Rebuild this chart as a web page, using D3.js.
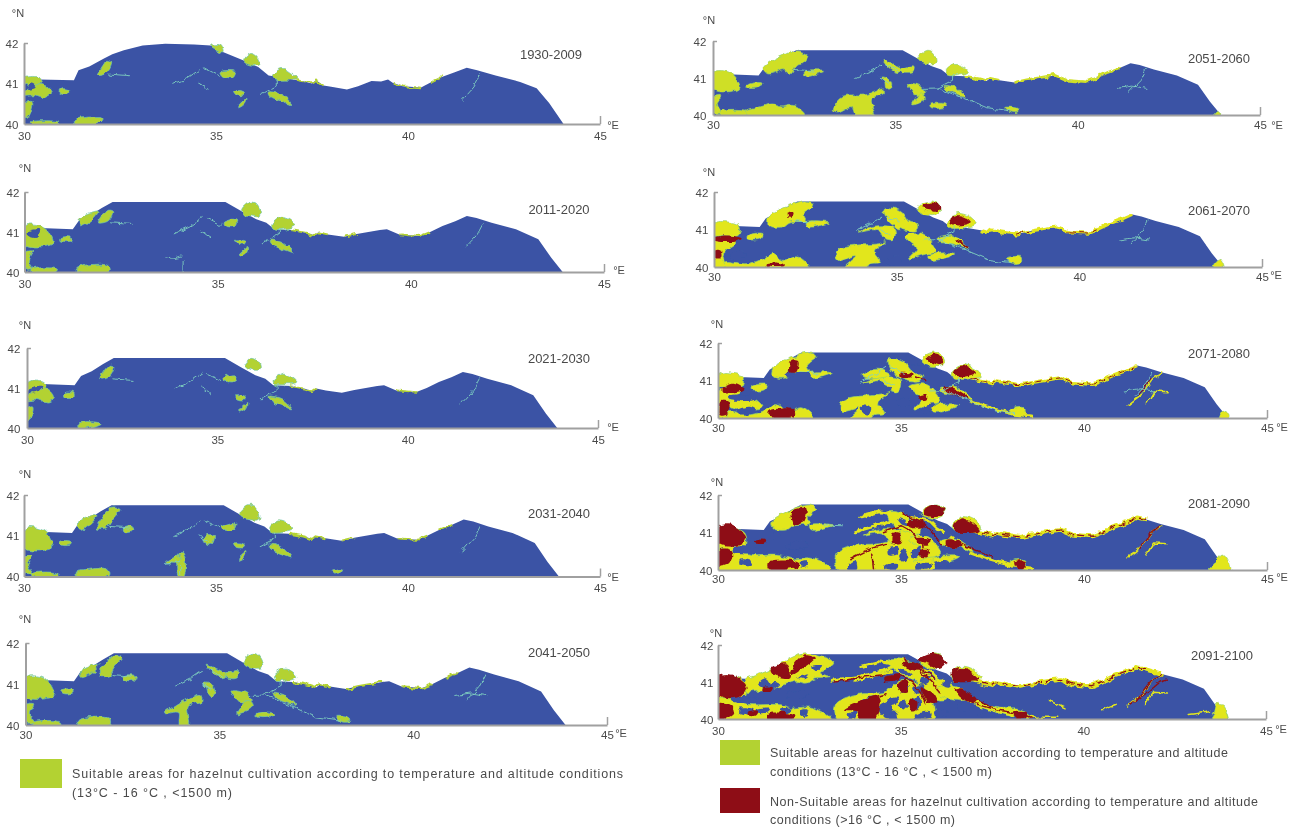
<!DOCTYPE html>
<html><head><meta charset="utf-8">
<script src="https://cdn.jsdelivr.net/npm/d3@7/dist/d3.min.js"></script>
<style>html,body{margin:0;background:#fff}svg{display:block}text{font-family:"Liberation Sans",Arial,sans-serif;fill:#4a4a4a}</style>
</head><body><div id="c"></div>
<script>
// ---------- data: all shapes are flat [lon,lat,lon,lat,...] lists ----------
const periods=["1930-2009","2011-2020","2021-2030","2031-2040","2041-2050","2051-2060","2061-2070","2071-2080","2081-2090","2091-2100"];
const lonTicks=[30,35,40,45], latTicks=[40,41,42];
const coastDome=[30,40,30,41.08,30.4,41.1,31.3,41.08,31.42,41.33,31.7,41.42,32.07,41.61,32.3,41.72,32.6,41.82,33.09,41.94,33.68,41.98,34.43,41.96,34.86,41.94,35.18,41.78,35.72,41.57,36.1,41.41,36.37,41.2,36.9,41.12,37.3,41.05,37.5,41.0,37.6,41.08,37.8,40.95,38.0,40.92,38.41,40.85,38.7,40.93,39.05,41.06,39.3,41.05,39.48,41.1,39.6,41.02,39.86,40.93,40.34,40.9,40.6,41.03,40.88,41.16,41.2,41.27,41.53,41.39,41.8,41.33,42.28,41.2,42.92,41.04,43.35,40.88,43.68,40.51,44.05,40];
const coastFlat=[30,40,30,41.07,30.4,41.1,31.25,41.07,31.42,41.3,31.7,41.42,32.0,41.6,32.28,41.75,35.2,41.75,35.62,41.52,36.0,41.32,36.26,41.23,36.47,41.07,36.9,41.05,37.3,40.98,37.5,40.92,37.6,40.99,37.85,40.94,38.27,40.88,38.6,40.95,38.9,41.0,39.2,41.05,39.38,41.07,39.7,40.94,40.23,40.9,40.5,41.0,40.82,41.15,41.15,41.27,41.45,41.4,41.7,41.35,42.09,41.23,42.72,41.07,43.3,40.82,43.63,40.36,43.93,40];

const bulgeA=[35.62,41.55,35.8,41.73,35.98,41.73,36.1,41.55,36.1,41.4,35.85,41.4,35.7,41.45];
const bulgeB=[36.4,41.2,36.6,41.36,36.85,41.32,37.0,41.17,36.75,41.08,36.45,41.08];
const bulgeA1=[35.72,41.55,35.9,41.74,36.08,41.66,36.12,41.47,35.92,41.45];
const bulgeB1=[36.47,41.2,36.72,41.37,36.95,41.28,37.1,41.12,36.7,41.08,36.5,41.1];
const topBit=[34.86,41.94,35.13,41.94,35.18,41.78,35.0,41.84];

const gWestTiny=[30,41.12,30.3,41.17,30.5,41.05,30.2,40.95,30,41.0];
const gWestCore=[30,40.72,30.2,40.97,30.5,41.0,30.72,40.78,30.55,40.65,30.25,40.72];
const gWestFull=[30,41.15,30.32,41.19,30.58,41.07,30.74,40.73,30.58,40.65,30,40.69];
const gWestLow=[30,40.48,30.21,40.52,30.1,40.27,30.21,40.07,30,40.07];
const gBottomA=[31.38,40.11,31.8,40.19,32.17,40.15,32.17,40,31.38,40];
const gBottomThin=[30.2,40.05,30.9,40.05,30.85,40,30.2,40];
const gPatch31=[30.95,40.86,31.22,40.86,31.22,40.78,30.95,40.78];
const gMainS=[31.96,41.32,32.17,41.57,32.28,41.53,32.17,41.28,31.91,41.23];
const gCoast31=[31.43,41.33,31.9,41.5,31.72,41.28,31.45,41.16];
const gMainM=[31.9,41.2,32.05,41.48,32.28,41.7,32.5,41.65,32.3,41.4,32.15,41.2];
const gB=[35.14,41.23,35.51,41.32,35.46,41.15,35.2,41.15];
const gC=[35.46,40.82,35.73,40.79,35.73,40.71,35.51,40.73];
const gD=[35.57,40.44,35.78,40.61,35.73,40.48,35.57,40.4];
const gE=[36.36,40.79,36.68,40.73,36.95,40.48,36.79,40.53,36.41,40.69];
const gStem=[34.0,40.45,34.12,40.62,34.2,40.4,34.16,40,34.02,40];
const gStemWide=[33.6,40.28,33.9,40.5,34.14,40.62,34.5,40.72,34.55,40.6,34.2,40.45,34.22,40,33.98,40,33.95,40.3];
const g45=[34.6,41.02,34.82,40.98,34.9,40.8,34.75,40.72,34.7,40.9];
const gF=[34.66,41.48,34.92,41.38,35.2,41.22,35.05,41.15,34.8,41.3];
const gC2=[35.33,40.85,35.7,40.78,35.82,40.58,35.55,40.55,35.4,40.7];
const gD2=[35.45,40.28,35.72,40.6,35.85,40.45,35.65,40.32];
const gG=[35.95,40.28,36.35,40.3,36.4,40.22,35.98,40.2];
const gH=[38.0,40.2,38.35,40.17,38.35,40.08,38.1,40.1];
const gMainW=[31.4,41.3,31.9,41.6,32.25,41.73,32.6,41.62,32.45,41.38,32.3,41.35,32.12,41.1,31.9,41.25,31.7,41.15,31.45,41.12];
const g33=[32.5,41.18,33.05,41.2,32.75,41.08,32.55,41.05];
const gBottomB=[30.9,40.12,31.3,40.22,31.6,40.3,31.87,40.22,32.2,40.26,32.5,40.05,32.5,40,30.9,40];
const gBig=[33.3,40.15,33.55,40.5,34.2,40.55,34.65,40.7,34.7,40.6,34.35,40.42,34.42,40.05,34.3,40,33.9,40,33.8,40.22,33.4,40.08];
const gTip=[43.75,40.03,43.85,40.12,43.93,40,43.72,40];

const gW2=[30,41.16,30.39,41.2,30.71,41.07,30.66,40.84,30.28,40.84,30,40.84];
const gW2Low=[30,40.72,30.6,40.68,30.4,40.5,30.25,40.32,30.3,40,30,40];
const g31b=[30.92,40.84,31.34,40.89,31.28,40.76,30.92,40.74];
const gBot2=[30.28,40.13,30.92,40.09,31.34,40.22,31.6,40.36,31.87,40.18,32.29,40.27,32.6,40.04,32.6,40,30.28,40];
const gMain2=[31.5,41.33,32.08,41.64,32.55,41.73,32.7,41.64,32.44,41.42,32.5,41.24,32.08,41.2,31.87,41.07,31.5,41.11];
const g33b=[32.5,41.2,33.13,41.2,32.81,41.09,32.55,41.07];
const gBig2=[33.34,40.36,33.55,40.53,34.5,40.62,34.71,40.68,34.39,40.4,34.55,40.13,34.29,40.09,34.2,40,33.6,40,33.87,40.27,33.39,40.18];
const gN2=[33.97,40.93,34.39,41.09,34.97,41.02,34.92,40.71,34.66,40.76,34.5,40.98];
const gF2=[34.66,41.56,35.08,41.51,35.34,41.2,35.55,41.16,35.55,40.98,35.08,41.02,34.76,41.24];
const gC3=[35.24,40.84,35.71,40.89,36.08,40.44,35.66,40.31,35.34,40.22,35.55,40.49];
const gE2=[36.08,40.76,36.5,40.84,36.97,40.49,36.6,40.6,36.13,40.68];
const gG2=[35.87,40.31,36.6,40.36,36.29,40.22,35.87,40.2];
const gH2=[37.98,40.22,38.4,40.27,38.4,40.12,38.08,40.12];
const gTip2=[43.72,40.13,43.88,40.2,43.96,40,43.67,40];
const rA=[35.71,41.64,35.98,41.72,36.19,41.6,36.13,41.51,35.76,41.56];
const rB=[36.45,41.29,36.71,41.38,37.03,41.2,36.71,41.11,36.5,41.16];
const yA=[35.55,41.5,35.75,41.72,36.05,41.74,36.2,41.5,36.05,41.38,35.75,41.4];
const yB=[36.4,41.2,36.65,41.42,37.0,41.34,37.2,41.12,36.7,41.03,36.45,41.05];
const rW2a=[30,40.77,30.34,40.84,30.76,40.76,30.6,40.68,30,40.71];
const rW2b=[30,40.44,30.18,40.44,30.18,40.22,30,40.22];
const r31=[32.0,41.45,32.2,41.48,32.15,41.3,32.02,41.3];
const rBot=[31.45,40.1,31.9,40.08,31.9,40.03,31.45,40.03];

const r3=[[30.14,40.79,30.45,40.91,30.72,40.75,30.4,40.66,30.14,40.68],[30.08,40.48,30.3,40.44,30.24,40.09,30.03,40.09],[31.4,40.18,32.08,40.22,32.08,40.04,31.4,40.04],[32,41.54,32.19,41.54,32.14,41.23,31.96,41.23],[36.2,40.84,36.45,40.8,36.85,40.53,36.65,40.53,36.25,40.7],[35.0,41.22,35.3,41.18,35.3,41.1,35.0,41.08],[35.45,40.58,35.7,40.63,35.7,40.5,35.45,40.5],[35.7,41.6,35.95,41.72,36.15,41.55,36.1,41.42,35.8,41.5],[36.45,41.25,36.7,41.4,37.05,41.2,36.5,41.1]];
const r4=[[30,41.15,30.4,41.2,30.77,40.89,30.6,40.67,30,40.74],[30,40.53,30.35,40.53,30.35,40.22,30,40.13],[31.35,40.22,32.2,40.22,32.2,40.09,31.35,40.04],[32.03,41.56,32.4,41.64,32.35,41.29,32.08,41.24],[36.24,40.8,36.6,40.76,36.65,40.62,36.24,40.67],[35.24,41.33,35.66,41.24,35.55,41.11,35.24,41.16],[34.77,40.98,34.98,40.98,34.98,40.71,34.77,40.71],[35.45,40.84,35.8,40.8,35.75,40.66,35.45,40.7],[35.5,40.52,35.75,40.55,35.72,40.35,35.5,40.38],[31.0,40.8,31.3,40.82,31.3,40.72,31.0,40.72],[38.1,40.22,38.4,40.24,38.35,40.06,38.15,40.06],[36.0,41.6,35.7,41.65,35.6,41.5,35.95,41.42]];

const gW5=[30,41.13,30.36,41.17,30.74,41.0,30.74,40.6,30,40.56];
const gLow5=[30,40.56,30.36,40.52,30.9,40.39,31.66,40.39,32.04,40.3,32.52,40.32,32.85,40.2,33.07,40,30,40];
const gTop5=[30.68,41.01,31.44,41.33,32.2,41.73,32.74,41.73,33.17,41.51,32.8,41.24,33.07,41.15,32.63,41.1,32.42,40.97,32.09,41.01,31.55,40.83,31,40.74,30.74,40.74];
const gCen5=[33.23,40.43,33.72,40.65,34.58,40.74,35.02,41.06,35.45,40.97,35.88,40.52,35.88,40,33.28,40];
const gUp5=[34.65,41.6,35.3,41.55,35.9,41.1,36.4,40.95,36.2,40.5,35.8,40.6,35.4,41.05,34.9,41.25];
const gEast5=[36.0,40.8,36.5,40.88,37.0,40.55,37.6,40.34,38.3,40.26,38.55,40.02,38.1,40.06,37.3,40.28,36.7,40.5,36.1,40.62];
const rW5=[30,41.15,30.36,41.2,30.78,40.88,30.6,40.6,30,40.65];
const rTop5a=[31.44,41.33,31.87,41.5,31.95,41.1,31.55,41.16];
const rTop5b=[32.1,41.45,32.4,41.72,32.65,41.65,32.25,41.33,32.0,41.2];
const rLow5a=[30,40.45,30.4,40.34,30.4,40.12,30,40];
const rLow5b=[31.35,40.14,32.1,40.1,32.1,40,31.35,40];
const rCen5a=[33.45,40.25,33.9,40.47,34.42,40.6,34.32,40,33.95,40,33.8,40.2];
const rCen5b=[34.9,40.95,35.15,41.05,35.2,40.72,34.95,40.75];
const rCen5c=[35.55,40.85,35.9,40.68,36.0,40.45,35.7,40.5];
const rCen5d=[34.55,41.12,35.0,41.2,34.95,41.08,34.6,41.03];
const rEast5=[36.6,40.8,37.1,40.55,37.0,40.42,36.55,40.65];
const rExtra5=[[38.1,40.2,38.45,40.18,38.4,40.02,38.15,40.02],[30.8,40.2,31.1,40.22,31.05,40.1,30.8,40.1],[31.2,40.85,31.5,40.85,31.45,40.75,31.2,40.75],[35.1,41.55,35.55,41.45,35.5,41.32,35.1,41.42],[35.25,40.5,35.45,40.5,35.4,40.25,35.25,40.25]];
const rBA5=[35.5,41.6,35.75,41.75,36.05,41.72,36.25,41.55,36.05,41.35,35.8,41.48];
const rBB5=[36.4,41.25,36.7,41.38,36.95,41.28,37.15,41.08,36.5,41.02];
const rBA4=[35.6,41.55,35.85,41.75,36.05,41.72,36.2,41.5,35.95,41.42];
const rBB4=[36.45,41.2,36.65,41.38,36.9,41.3,37.15,41.05,36.5,41.03];

// blue holes inside the yellow areas
const holes2=[[34.7,40.2,35.1,40.25,35.1,40.05,34.75,40.05],[30.45,40.3,30.75,40.45,30.85,40.3,30.55,40.2]];
const holes3=[[30.3,40.55,31.0,40.6,31.0,40.5,30.35,40.48],[30.5,40.2,30.9,40.3,31.1,40.18,30.6,40.1],[31.85,41.15,32.0,41.3,32.1,41.25,32.0,41.1],[34.9,40.45,35.2,40.55,35.25,40.35,35.0,40.3],[33.95,40.35,34.15,40.3,34.1,40.1,33.95,40.15],[35.2,41.4,35.55,41.4,35.6,41.3,35.3,41.3],[34.6,40.85,34.7,40.85,34.7,40.75,34.6,40.75],[35.6,40.3,35.9,40.35,35.85,40.2,35.6,40.15]];
const holes4=[[30.4,40.6,31.2,40.55,31.3,40.47,30.4,40.47],[30.6,40.3,30.95,40.25,30.9,40.12,30.6,40.15],[32.25,40.22,32.45,40.25,32.42,40.1,32.28,40.1],[31.35,40.8,31.55,41.0,31.7,40.95,31.45,40.78],[34.95,40.4,35.1,40.55,35.2,40.35,35.05,40.2],[35.55,41.1,35.8,41.15,35.75,40.95,35.55,40.92],[33.55,40.1,33.75,40.25,33.8,40.05,33.6,40],[34.65,40.55,34.9,40.6,34.9,40.42,34.65,40.4],[35.3,40.5,35.5,40.62,35.55,40.38,35.35,40.3],[35.92,40.2,36.3,40.25,36.3,40.1,35.95,40.08],[36.2,41.1,36.4,41.05,36.3,40.85,36.15,40.9],[34.9,41.38,35.3,41.2,35.05,41.2],[35.4,40.12,35.8,40.18,35.8,40.05,35.4,40.03],[34.55,40.12,34.9,40.18,34.9,40.02,34.55,40.02],[31.85,40.65,32.3,40.78,32.5,40.65,32,40.55]];
const holes5=holes4.concat([[31.0,40.25,31.4,40.3,31.35,40.18,31.05,40.18],[32.55,41.42,32.85,41.45,32.7,41.3],[31.1,40.95,31.3,41.1,31.45,40.9,31.2,40.85],[33.95,40.52,34.3,40.6,34.25,40.45,34.0,40.42],[34.4,40.3,34.7,40.45,34.75,40.2,34.5,40.1],[35.35,40.85,35.6,40.9,35.6,40.72,35.4,40.7],[36.55,40.35,36.9,40.4,36.9,40.25,36.6,40.22],[37.1,40.1,37.5,40.15,37.6,40.03,37.15,40.02],[30.6,40.5,31.05,40.55,31.05,40.45,30.6,40.45],[31.7,40.25,32.0,40.3,31.95,40.18,31.7,40.18],[32.2,41.12,32.5,41.2,32.4,41.08],[35.0,40.85,35.25,40.88,35.2,40.75,35,40.72]]);

// narrow pale streaks, suitable veins and unsuitable veins
const tealBase=[[34.72,41.36,34.88,41.28,35.09,41.19],[33.9,40.98,34.28,41.15,34.6,41.36],[34.56,41.02,34.82,40.86],[36.15,40.73,36.57,40.94,36.57,41.07],[41.4,40.6,41.72,40.94,41.88,41.23],[32.23,41.23,32.76,41.19]];
const teal2=[[33.66,40.32,34.08,40.4],[34.08,40.28,34.08,40]];
const tealMid=[[35.78,40.72,36.15,40.73,36.9,40.45,37.5,40.2,38.1,40.12],[41.1,40.72,41.5,40.78,41.9,40.72]];
const veinsY=[[33.75,41.02,34.3,41.18,34.75,41.3],[35.3,41.4,35.8,41.3,36.0,41.1,36.4,40.85],[36.9,40.45,37.5,40.25,38.1,40.1,38.6,40.05],[33.9,41.42,34.4,41.55,34.75,41.5]];
const veinsEast=[[41.2,40.35,41.6,40.65,41.9,41.05,42.15,41.2],[41.7,40.4,41.9,40.72,42.3,40.7]];
const veinsEast5=[[38.4,40.05,39.3,40.05],[39.05,40.5,39.5,40.3],[40.5,40.25,40.9,40.4],[42.9,40.12,43.5,40.2]];
const veinsY5=[[33.1,41.05,33.9,41.15,34.5,41.3,35,41.5]];
const veinsR=[[34.55,41.02,35.0,41.18,35.3,41.02,35.55,40.7,35.7,40.4],[35.05,41.5,35.55,41.3,35.85,41.0,36.1,40.7],[36.5,40.78,37.0,40.55,37.5,40.35],[41.5,40.55,41.85,41.0,42.1,41.2],[33.6,40.3,34.1,40.55,34.6,40.68],[34.2,40.45,34.25,40]];
const veinsR5=[[33.2,41.0,33.9,41.12,34.6,41.2],[36.9,40.45,37.6,40.25,38.3,40.15,38.6,40.02],[35.1,41.6,35.6,41.35,35.9,41.1],[41.3,40.4,41.8,40.75,42.1,41.0,42.3,41.05]];

// ---------- layout ----------
const frames=[
 {x0:24,x1:600,t:43,b:124,nx:18,ny:13,ex:613,ey:125,ly:136,lx:12,px:551,py:54,coast:coastDome},
 {x0:24.5,x1:604,t:192,b:272,nx:25,ny:168,ex:619,ey:270,ly:284,lx:13,px:559,py:209},
 {x0:27,x1:598,t:348,b:428,nx:25,ny:325,ex:613,ey:427,ly:440,lx:14,px:559,py:358},
 {x0:24,x1:600,t:495,b:576.5,nx:25,ny:474,ex:613,ey:577,ly:588,lx:13,px:559,py:513},
 {x0:25.5,x1:607,t:643,b:725,nx:25,ny:619,ex:621,ey:733,ly:735,lx:13,px:559,py:652},
 {x0:713,x1:1260,t:41,b:115,nx:709,ny:20,ex:1277,ey:125,ly:125,lx:700,px:1219,py:58},
 {x0:714,x1:1262,t:192,b:267,nx:709,ny:172,ex:1276,ey:275,ly:277,lx:702,px:1219,py:210},
 {x0:718,x1:1267,t:343,b:418,nx:717,ny:324,ex:1282,ey:427,ly:428,lx:706,px:1219,py:353},
 {x0:718,x1:1267,t:495,b:570,nx:717,ny:482,ex:1282,ey:577,ly:579,lx:706,px:1219,py:503},
 {x0:718,x1:1266,t:645,b:719,nx:716,ny:633,ex:1281,ey:729,ly:731,lx:707,px:1222,py:655}];
const C={blue:"#3a53a5",left:"#b3d233",r1:"#cfdf28",y:"#e2e61e",red:"#8e1116",teal:"#7fd0c0"};
const panels=[
 {g:[bulgeA1,bulgeB1,topBit,gWestCore,gWestTiny,[30.93,40.85,31.15,40.85,31.15,40.75,30.93,40.75],[30,40.5,30.22,40.55,30.1,40.15,30,40.15],[31.3,40.1,31.6,40.16,32.06,40.16,31.9,40,31.3,40],gBottomThin,gMainS,[35.13,41.29,35.5,41.29,35.45,41.15,35.2,41.18],gC,gD,gE],
  holes:[[30.1,40.92,30.2,41.0,30.3,40.92,30.15,40.88]],teal:tealBase,fr:[[36.9,37.9],[38.2,38.5],[39.6,40.4],[40.6,41.1]],fw:1.6,yv:[],ev:[],rv:[],r:[],col:C.left},
 {g:[bulgeA,bulgeB,gWestFull,gWestLow,gPatch31,gBottomA,[30.2,40.07,30.85,40.07,30.8,40,30.2,40],gMainS,gCoast31,gB,gC,gD,gE],
  holes:[[30.05,40.98,30.37,41.07,30.32,40.86,30.1,40.9]],teal:tealBase.concat(teal2),fr:[[36.9,38.0],[38.2,38.6],[39.4,40.6],[40.7,41.1]],fw:1.8,yv:[],ev:[],rv:[],r:[],col:C.left},
 {g:[bulgeA1,bulgeB1,gWestCore,gWestTiny,[31.0,40.88,31.2,40.88,31.2,40.78,31.0,40.78],[30,40.5,30.15,40.55,30.08,40.2,30,40.2],[31.35,40.1,31.6,40.16,31.95,40.1,31.7,40,31.35,40],gMainS,gB,gC,gD,gE],
  holes:[[30.05,40.98,30.4,41.05,30.3,40.92,30.1,40.9]],teal:tealBase,fr:[[36.9,37.8],[39.4,40.4],[40.7,41.1]],fw:1.6,yv:[],ev:[],rv:[],r:[],col:C.left},
 {g:[bulgeA,bulgeB,gWestFull,gWestLow,gPatch31,[31.35,40.12,31.7,40.18,32.15,40.18,32.2,40,31.35,40],[30.2,40.07,30.9,40.07,30.9,40,30.2,40],gMainM,gCoast31,[32.6,41.22,32.85,41.22,32.8,41.12,32.6,41.12],gB,gC,gD,gE,gStem,[33.7,40.35,34.05,40.5,34.05,40.35],[34.7,41,34.95,41,34.9,40.8,34.75,40.8],[38.05,40.15,38.3,40.18,38.2,40.05]],
  holes:[],teal:tealBase.concat(teal2),fr:[[36.9,38.0],[38.2,38.7],[39.4,40.6],[40.7,41.2]],fw:2,yv:[],ev:[],rv:[],r:[],col:C.left},
 {g:[bulgeA,bulgeB,gWestFull,gWestLow,gPatch31,gBottomA,[30.2,40.07,30.9,40.07,30.9,40,30.2,40],gMainM,gCoast31,[32.55,41.2,32.85,41.2,32.8,41.08,32.55,41.08],gF,gB,g45,gC2,gD2,gE,gG,gStemWide,gH],
  holes:[],teal:tealBase.concat(tealMid),fr:[[36.9,38.0],[38.2,39.3],[39.4,40.6],[40.7,41.3]],fw:2.2,yv:[],ev:[],rv:[],r:[],col:C.left},
 {g:[bulgeA,bulgeB,gWestFull,gWestLow,g31b,gBottomB,[30.2,40.08,30.95,40.08,30.95,40,30.2,40],gMainW,g33,gF,gB,g45,gC2,gD2,gE,gG,gBig,gH,gTip],
  holes:[[30.7,40.95,30.95,41.02,30.95,40.9,30.72,40.88]],teal:tealBase.concat(tealMid),fr:[[36.9,38.0],[38.2,41.4]],fw:2.6,yv:[],ev:[],rv:[],r:[],col:C.r1},
 {g:[yA,yB,gW2,gW2Low,g31b,gBot2,gMain2,g33b,gBig2,gN2,gF2,gC3,gE2,gG2,gH2,gTip2],
  holes:holes2,teal:tealBase.concat(tealMid),fr:[[37,41.5]],fw:3,yv:[],ev:[],rv:[[36.6,40.72,36.95,40.52]],r:[rA,rB,rW2a,rW2b,r31,rBot],rfr:[[38.2,38.7],[39.7,40.5]],col:C.y},
 {g:[yA,yB,gW2,gW2Low,g31b,gBot2,gMain2,g33b,gBig2,gN2,gF2,gC3,gE2,gG2,gH2,gTip2,[30.2,40.4,31,40.5,31.2,40.3,30.6,40.2],[33.9,41.15,34.4,41.3,34.7,41.15,34.2,41.05]],
  holes:holes3,teal:tealBase.concat(tealMid),fr:[[36.9,41.6]],fw:3.5,yv:veinsY.slice(2,3),ev:veinsEast,rv:[[35.4,41.1,35.7,41.0],[41.5,40.65,41.85,41.05]],r:r3,rfr:[[36.9,41.5]],col:C.y},
 {g:[yA,yB,gW5,gLow5,gMain2,g33b,gBig2,gCen5,gN2,gF2,gC3,gE2,gG2,gH2,gTip2,[43.5,40.1,43.8,40.4,44,40,43.4,40]],
  holes:holes4,teal:[[32.9,41.2,33.4,41.18]],yv:veinsY,ev:veinsEast,rv:veinsR,r:[rBA4,rBB4].concat(r4),rfr:[[36.9,41.8]],fr:[[36.9,41.8]],fw:4,col:C.y},
 {g:[yA,yB,gW5,gLow5,gTop5,gCen5,gUp5,gEast5,gTip2,[43.55,40.1,43.7,40.45,43.95,40,43.5,40]],
  holes:holes5,teal:[],yv:veinsY.concat(veinsY5),ev:veinsEast.concat(veinsEast5),rv:veinsR.concat(veinsR5),r:[rBA5,rBB5,rW5,rLow5a,rLow5b,rTop5a,rTop5b,rCen5a,rCen5b,rCen5c,rCen5d,rEast5].concat(rExtra5),rfr:[[36.9,41.9]],fr:[[36.9,42.2]],fw:4.5,col:C.y}];

const legends=[
 {x:20,y:759,w:42,h:29,c:C.left,tx:72,lines:[["Suitable areas for hazelnut cultivation according to temperature and altitude conditions",774,551],["(13°C - 16 °C , <1500  m)",793,160]]},
 {x:720,y:740,w:40,h:25,c:C.left,tx:770,lines:[["Suitable areas for hazelnut cultivation according to temperature and altitude",753,458],["conditions (13°C - 16 °C , < 1500 m)",772,222]]},
 {x:720,y:788,w:40,h:25,c:C.red,tx:770,lines:[["Non-Suitable areas for hazelnut cultivation according to temperature and altitude",802,488],["conditions (>16 °C , < 1500 m)",820,185]]}];

// ---------- drawing ----------
const pts=a=>d3.pairs(a).filter((_,i)=>i%2==0);
const svg=d3.select("#c").append("svg").attr("width",1297).attr("height",827);
const defs=svg.append("defs");
defs.append("filter").attr("id","soft").attr("x","-5%").attr("y","-5%").attr("width","110%").attr("height","110%").append("feGaussianBlur").attr("stdDeviation",0.55);
defs.append("filter").attr("id","softText").attr("filterUnits","userSpaceOnUse").attr("x",0).attr("y",0).attr("width",1297).attr("height",827).append("feGaussianBlur").attr("stdDeviation",0.35);
const rough=defs.append("filter").attr("id","rough").attr("filterUnits","userSpaceOnUse").attr("x",0).attr("y",0).attr("width",1297).attr("height",827);
rough.append("feTurbulence").attr("type","fractalNoise").attr("baseFrequency",0.14).attr("numOctaves",2).attr("seed",4).attr("result","n");
rough.append("feDisplacementMap").attr("in","SourceGraphic").attr("in2","n").attr("scale",6).attr("xChannelSelector","R").attr("yChannelSelector","G");
const root=svg.append("g").attr("filter","url(#softText)");

frames.forEach((f,i)=>{
 const p=panels[i], x=d3.scaleLinear().domain([30,45]).range([f.x0,f.x1]), y=d3.scaleLinear().domain([40,42]).range([f.b,f.t]);
 const line=d3.line().x(d=>x(d[0])).y(d=>y(d[1]));
 const blob=d3.line().x(d=>x(d[0])).y(d=>y(d[1])).curve(d3.curveCatmullRomClosed.alpha(0.5));
 const poly=a=>blob(pts(a)), open=a=>line(pts(a));
 const coast=pts(f.coast||coastFlat);
 const slice=r=>coast.filter(d=>d[0]>=r[0]&&d[0]<=r[1]&&d[1]>40.2);
 const clipId="land"+i;
 defs.append("clipPath").attr("id",clipId).append("rect").attr("x",f.x0).attr("y",f.t-6).attr("width",f.x1-f.x0).attr("height",f.b-f.t+6);
 const outer=root.append("g").attr("filter","url(#soft)");
 outer.append("path").attr("d",line(coast)+"Z").attr("fill",C.blue);
 const g=outer.append("g").attr("clip-path",`url(#${clipId})`).append("g").attr("filter","url(#rough)");
 const stroke=(arr,col,w)=>g.append("g").selectAll("path").data(arr).join("path").attr("d",open).attr("fill","none").attr("stroke",col).attr("stroke-width",w).attr("stroke-linejoin","round").attr("stroke-linecap","round");
 const fill=(arr,col)=>g.append("g").selectAll("path").data(arr).join("path").attr("d",poly).attr("fill",col);
 g.append("g").selectAll("path").data(p.fr).join("path").attr("d",r=>line(slice(r))).attr("fill","none").attr("stroke",p.col).attr("stroke-width",p.fw).attr("stroke-linejoin","round");
 fill(p.g,p.col).attr("stroke",i<5?"#6fc6b0":"#8fd070").attr("stroke-width",0.7);
 stroke(p.yv,p.col,3);
 stroke(p.ev,p.col,1.5);
 fill(p.holes,C.blue);
 fill(p.r,C.red);
 stroke(p.rv,C.red,1.5);
 g.append("g").selectAll("path").data(p.rfr||[]).join("path").attr("d",r=>line(slice(r))).attr("fill","none").attr("stroke",C.red).attr("stroke-width",i>7?1.4:1).attr("stroke-dasharray","7 4").attr("stroke-linejoin","round");
 stroke(p.teal,C.teal,0.9);

 // axes
 const ax=d3.axisBottom(x).tickValues(lonTicks).tickSize(0).tickPadding(0).tickFormat(d3.format("d"));
 const gx=root.append("g").attr("transform",`translate(0,${f.b})`).call(ax);
 gx.select(".domain").attr("stroke","#a0a0a0").attr("stroke-width",2);
 gx.selectAll("text").attr("y",f.ly-f.b).attr("dy","0.35em").attr("font-size",11.5).style("font-family",null);
 const gxe=root.append("g").attr("transform",`translate(0,${f.b})`).call(d3.axisBottom(x).tickValues([45]).tickSize(-8).tickFormat(""));
 gxe.select(".domain").remove(); gxe.selectAll("line").attr("stroke","#a0a0a0").attr("stroke-width",1.5);
 const ay=d3.axisLeft(y).tickValues(latTicks).tickSize(0).tickPadding(0).tickFormat(d3.format("d"));
 const gy=root.append("g").attr("transform",`translate(${f.x0},0)`).call(ay);
 gy.select(".domain").attr("stroke","#a0a0a0").attr("stroke-width",2);
 gy.selectAll("text").attr("x",f.lx-f.x0).attr("text-anchor","middle").attr("dy","0.35em").attr("font-size",11.5).style("font-family",null);
 const gyt=root.append("g").attr("transform",`translate(${f.x0},0)`).call(d3.axisRight(y).tickValues([42]).tickSize(4).tickFormat(""));
 gyt.select(".domain").remove(); gyt.selectAll("line").attr("stroke","#a0a0a0").attr("stroke-width",1.5);

 root.append("text").attr("x",f.nx).attr("y",f.ny).attr("dy","0.35em").attr("text-anchor","middle").attr("font-size",11).text("°N");
 root.append("text").attr("x",f.ex).attr("y",f.ey).attr("dy","0.35em").attr("text-anchor","middle").attr("font-size",11).text("°E");
 root.append("text").attr("x",f.px).attr("y",f.py).attr("dy","0.35em").attr("text-anchor","middle").attr("font-size",13).text(periods[i]);
});

legends.forEach(l=>{
 root.append("rect").attr("x",l.x).attr("y",l.y).attr("width",l.w).attr("height",l.h).attr("fill",l.c);
 l.lines.forEach(t=>root.append("text").attr("x",l.tx).attr("y",t[1]).attr("dy","0.35em").attr("font-size",12.5).attr("textLength",t[2]).attr("lengthAdjust","spacing").text(t[0]));
});
</script></body></html>
